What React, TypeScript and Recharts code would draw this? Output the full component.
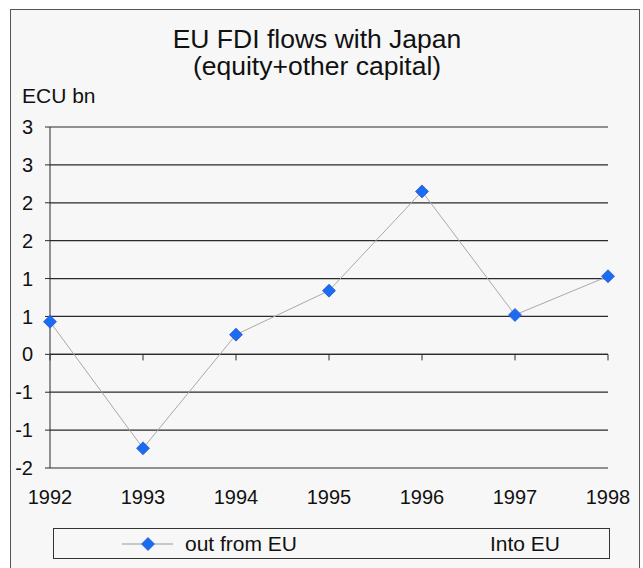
import { CartesianGrid, Legend, Line, LineChart, ReferenceLine, XAxis, YAxis } from "recharts";

const YEARS = ["1992", "1993", "1994", "1995", "1996", "1997", "1998"];
const OUT_FROM_EU = [0.43, -1.24, 0.26, 0.84, 2.15, 0.52, 1.03];
const Y_TICKS = [-1.5, -1, -0.5, 0, 0.5, 1, 1.5, 2, 2.5, 3];
const Y_TICK_LABELS = ["-2", "-1", "-1", "0", "1", "1", "2", "2", "3", "3"];
const LEGEND_LABELS = ["out from EU", "Into EU"];

const FONT = '"Liberation Sans", Arial, sans-serif';
const INK = "#111";
const GRID = "#2a2a2a";
const BLUE = "#1a6cf0";
const BG = "#f7f7f7";

const data = YEARS.map((year, i) => ({ year, out: OUT_FROM_EU[i] }));

function Diamond(props: any) {
  const { cx, cy } = props;
  if (cx == null || cy == null) return null;
  const r = 6.5;
  return (
    <polygon
      points={`${cx},${cy - r} ${cx + r},${cy} ${cx},${cy + r} ${cx - r},${cy}`}
      fill={BLUE}
      stroke="#2f55d8"
      strokeWidth={0.8}
    />
  );
}

function LegendBox() {
  return (
    <div
      style={{
        position: "relative",
        width: "100%",
        height: "100%",
        boxSizing: "border-box",
        border: "1px solid #333",
        background: BG,
        fontFamily: FONT,
        fontSize: 21,
        color: INK,
        lineHeight: "29px",
      }}
    >
      <svg width={56} height={29} style={{ position: "absolute", left: 66, top: 0 }}>
        <line x1={2} y1={15} x2={53} y2={15} stroke="#999" strokeWidth={1} />
        <Diamond cx={28} cy={15} />
      </svg>
      <span style={{ position: "absolute", left: 131, top: 0 }}>{LEGEND_LABELS[0]}</span>
      <span style={{ position: "absolute", left: 436, top: 0 }}>{LEGEND_LABELS[1]}</span>
    </div>
  );
}

export default function App() {
  return (
    <div style={{ position: "absolute", left: 0, top: 0, width: 643, height: 568, background: "#fff", overflow: "hidden", fontFamily: FONT }}>
      <div
        style={{
          position: "absolute",
          left: 10,
          top: 9,
          width: 628,
          height: 580,
          border: "1px solid #555",
          background: BG,
        }}
      />
      <div style={{ position: "absolute", left: 0, top: 27, width: 634, textAlign: "center", fontSize: 26.5, lineHeight: "24px", color: INK }}>
        EU FDI flows with Japan
      </div>
      <div style={{ position: "absolute", left: 0, top: 54, width: 634, textAlign: "center", fontSize: 26.5, lineHeight: "24px", color: INK }}>
        (equity+other capital)
      </div>
      <div style={{ position: "absolute", left: 22, top: 85, fontSize: 21, lineHeight: "21px", color: INK }}>ECU bn</div>
      <LineChart
        width={643}
        height={568}
        data={data}
        margin={{ top: 127, right: 35, bottom: 40, left: 10 }}
        style={{ position: "absolute", left: 0, top: 0 }}
      >
        <CartesianGrid vertical={false} stroke={GRID} strokeWidth={1.2} />
        <XAxis
          dataKey="year"
          interval={0}
          axisLine={false}
          tickLine={false}
          tickSize={0}
          tickMargin={22}
          height={60}
          tick={{ fill: INK, fontSize: 20, fontFamily: FONT }}
        />
        <YAxis
          domain={[-1.5, 3]}
          ticks={Y_TICKS}
          interval={0}
          width={40}
          tickSize={5}
          tickMargin={12}
          axisLine={{ stroke: GRID }}
          tickLine={{ stroke: GRID }}
          tickFormatter={(v: number) => Y_TICK_LABELS[Y_TICKS.indexOf(v)] ?? String(v)}
          tick={{ fill: INK, fontSize: 20, fontFamily: FONT }}
        />
        <ReferenceLine y={0} stroke={GRID} strokeWidth={1.2} />
        {YEARS.map((y) => (
          <ReferenceLine
            key={y}
            segment={[
              { x: y, y: 0 },
              { x: y, y: -0.08 },
            ]}
            stroke={GRID}
          />
        ))}
        <Legend
          verticalAlign="middle"
          align="center"
          layout="horizontal"
          wrapperStyle={{ left: 53, top: 528, width: 557, height: 31 }}
          content={() => <LegendBox />}
        />
        <Line
          type="linear"
          dataKey="out"
          name={LEGEND_LABELS[0]}
          stroke="#a9a9a9"
          strokeWidth={1}
          dot={<Diamond />}
          activeDot={false}
          isAnimationActive={false}
        />
      </LineChart>
    </div>
  );
}
